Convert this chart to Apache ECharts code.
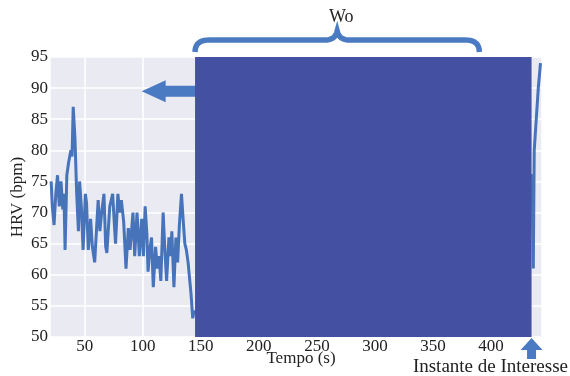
<!DOCTYPE html>
<html>
<head>
<meta charset="utf-8">
<script src="https://cdn.jsdelivr.net/npm/echarts@6/dist/echarts.min.js"></script>
<style>
html,body{margin:0;padding:0;background:#fff;}
#chart{width:570px;height:376px;}
</style>
</head>
<body>
<div id="chart"></div>
<script>
// Visible HRV samples (time in s, HRV in bpm)
var times = [21,22,23.5,25,26.5,28,29.5,31,32,33,34.5,36,37,38,39,40,41.5,43,44.5,45.5,47,48.5,50.5,51.5,53,55,56.5,58.5,61.5,63,64.5,66.5,68,69,71.5,74,75.5,76.5,78.5,80,81.5,83.5,85.5,87.5,89,91.5,93,95,97,99,100.5,102,103.5,104.5,106,107.5,109,111,112.5,114,115.5,117.5,119,120.5,122.5,124,125,126.8,128.5,130,131.5,133.3,134.7,136.2,137.5,139,141.5,143,144,
             435.5,436.5,437.3,440.8,442.7];
var hrv   = [75,71,68,73,76,71,75,70.5,73,64,76,78,79,80,79,87,82,73,67,75,71,64,73,71.5,64,69,64.5,62,72,67,70,73,64.5,63.5,71,73,68,65,73,70,72,68.5,61,67.5,64,70,63,70,63,69,63,71,66.5,60.5,64,66,58,64.5,61,63,59,70,64,59,66,63,67,58,66,62,68,73,69,65,64,62,57,53,54,
             76,61,80,90,94];
var windowStart = 145, windowEnd = 435;   // "Wo" observation window
var braceEnd = 390;                        // right end of the brace
var arrowLeftTip = [99, 89.5];             // tip of left arrow
var instant = 435;                         // "Instante de Interesse"
var xMin = 20, xMax = 444, yMin = 50, yMax = 95;

var FONT = 'Liberation Serif';
var points = times.map(function(t,i){return [t, hrv[i]];});

var chart = echarts.init(document.getElementById('chart'), null, {renderer:'canvas'});
var option = {
  animation:false,
  backgroundColor:'#ffffff',
  grid:{left:50, right:28, top:57, bottom:39, show:true, backgroundColor:'#EAEAF2', borderWidth:0,
        containLabel:false, outerBoundsMode:'none'},
  xAxis:{
    type:'value', min:xMin, max:xMax, splitNumber:8,
    name:'Tempo (s)', nameLocation:'middle', nameGap:13, nameMoveOverlap:false,
    nameTextStyle:{fontFamily:FONT, fontSize:17, color:'#222', padding:[0,0,0,10]},
    axisLine:{show:false}, axisTick:{show:false},
    axisLabel:{fontFamily:FONT, fontSize:17, color:'#222', margin:1, showMinLabel:false, showMaxLabel:false},
    splitLine:{show:true, lineStyle:{color:'#ffffff', width:1.5}}
  },
  yAxis:{
    type:'value', min:yMin, max:yMax, interval:5,
    name:'HRV (bpm)', nameLocation:'middle', nameGap:24, nameMoveOverlap:false,
    nameTextStyle:{fontFamily:FONT, fontSize:17, color:'#222'},
    axisLine:{show:false}, axisTick:{show:false},
    axisLabel:{fontFamily:FONT, fontSize:17, color:'#222', margin:2},
    splitLine:{show:true, lineStyle:{color:'#ffffff', width:1.5}}
  },
  series:[
    {type:'line', data:points, symbol:'none', z:2,
     lineStyle:{color:'#4673BA', width:3}},
    {type:'custom', z:5, data:[[windowStart, windowEnd]],
     renderItem:function(params, api){
       var p0 = api.coord([api.value(0), yMax]);
       var p1 = api.coord([api.value(1), yMin]);
       return {type:'rect', shape:{x:p0[0], y:p0[1], width:p1[0]-p0[0], height:p1[1]-p0[1]},
               style:{fill:'#4451A2'}};
     }}
  ]
};
chart.setOption(option);

function px(x, y){ return chart.convertToPixel({gridIndex:0}, [x, y]); }
var tl = px(windowStart, yMax);
var bx1 = px(braceEnd, yMax)[0];
var bl = tl[0], gTop = tl[1];
var mid = (bl + bx1) / 2;
var by = gTop - 17, bEnd = gTop - 5, bCusp = gTop - 26;

function quad(p0, c, p1, n, out){
  for (var i = 1; i <= n; i++){
    var t = i / n, u = 1 - t;
    out.push([u*u*p0[0] + 2*u*t*c[0] + t*t*p1[0], u*u*p0[1] + 2*u*t*c[1] + t*t*p1[1]]);
  }
}
var brace = [[bl, bEnd]];
quad([bl, bEnd], [bl, by], [bl+14, by], 10, brace);
brace.push([mid-12, by]);
quad([mid-12, by], [mid-2, by], [mid, bCusp], 10, brace);
quad([mid, bCusp], [mid+2, by], [mid+12, by], 10, brace);
brace.push([bx1-14, by]);
quad([bx1-14, by], [bx1, by], [bx1, bEnd], 10, brace);

var tip = px(arrowLeftTip[0], arrowLeftTip[1]);
var ac = '#4A7AC2';
var leftArrow = [
  [tip[0], tip[1]], [tip[0]+24, tip[1]-11], [tip[0]+24, tip[1]-5.5], [bl+2, tip[1]-5.5],
  [bl+2, tip[1]+5.5], [tip[0]+24, tip[1]+5.5], [tip[0]+24, tip[1]+11]
];
var ix = px(instant, yMin);
var upTipY = ix[1] + 1;
var upArrow = [
  [ix[0], upTipY], [ix[0]+11, upTipY+12], [ix[0]+4.5, upTipY+12], [ix[0]+4.5, upTipY+21],
  [ix[0]-4.5, upTipY+21], [ix[0]-4.5, upTipY+12], [ix[0]-11, upTipY+12]
];

chart.setOption({
  graphic:[
    {type:'polyline', shape:{points:brace}, style:{fill:null, stroke:ac, lineWidth:5.5}, z:10},
    {type:'text', x:mid+4, y:by-23, style:{text:'Wo', fontFamily:FONT, fontSize:18, fill:'#222', align:'center', verticalAlign:'middle'}, z:10},
    {type:'polygon', shape:{points:leftArrow}, style:{fill:ac}, z:4},
    {type:'polygon', shape:{points:upArrow}, style:{fill:ac}, z:10},
    {type:'text', x:568, y:upTipY+29, style:{text:'Instante de Interesse', fontFamily:FONT, fontSize:19, fill:'#222', align:'right', verticalAlign:'middle'}, z:10}
  ]
});
</script>
</body>
</html>
